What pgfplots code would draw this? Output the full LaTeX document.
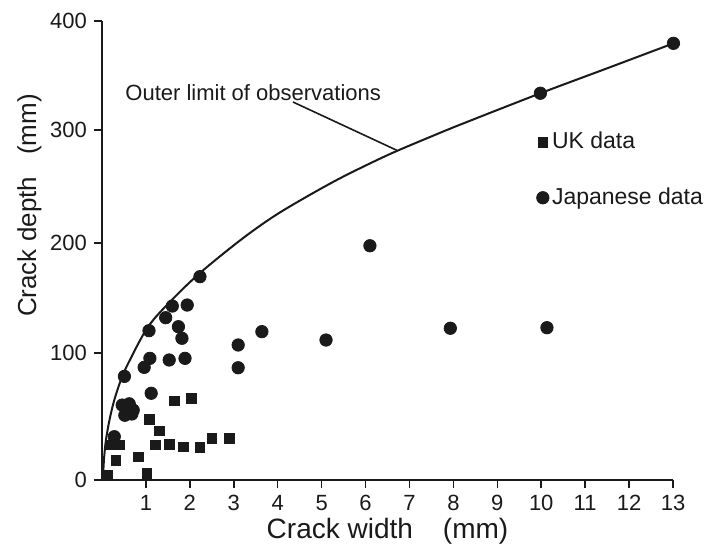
\documentclass[border=0pt]{standalone}
\usepackage{pgfplots}
\pgfplotsset{compat=1.18}
\usepackage{pgfplotstable}
\usepackage{fontspec}
\setmainfont{Liberation Sans}
\definecolor{ink}{HTML}{1A1A1A}

\pgfplotstableread{
x y
0.01 0
0.03 7.9
0.05 18.3
0.09 31.5
0.17 47.2
0.28 63
0.43 78.7
0.60 92.1
1.05 123.9
1.59 148.2
2.23 172.7
3.14 202.2
3.90 223.3
4.66 241
5.42 257.3
6.18 271.9
6.71 281.4
7.40 292.7
8.16 305
9.98 333.7
11.50 356.6
13.01 379.5
}\curvedata

% UK data
\pgfplotstableread{
x y
0.13 4
1.02 5
0.32 15.5
0.83 18.3
0.22 27.6
0.41 27.6
1.22 27.6
1.53 28.1
1.85 26.2
2.23 25.7
2.50 32.8
2.90 32.8
1.08 47.5
1.31 38.8
1.65 62.4
2.04 64.3
}\ukdata

% Japanese data
\pgfplotstableread{
x y
2.23 169.4
1.60 142.7
1.94 143.6
1.45 132.1
1.74 123.9
1.82 113.4
1.07 120.3
1.09 95.8
1.53 94.5
1.89 95.8
0.96 88.7
0.51 81.6
1.12 68.3
0.46 59
0.62 60
0.71 55
0.52 51
0.68 52
0.28 34.1
3.10 107.3
3.10 88.4
3.64 119.4
5.10 111.8
6.10 197.5
7.93 122.5
10.13 123
9.98 333.7
13.01 379.5
}\jpdata

\begin{document}
\begin{tikzpicture}
\path[use as bounding box] (-51pt,-36.5pt) rectangle (301.5pt,240pt);
\begin{axis}[
  scale only axis, width=285.5pt, height=229.5pt,
  xmin=0, xmax=13, ymin=0, ymax=400,
  y coord trafo/.code={\pgfmathparse{(#1)<=100 ? 1.27*(#1) : ((#1)<=200 ? 127+1.10*((#1)-100) : ((#1)<=300 ? 237+1.13*((#1)-200) : 350+1.09*((#1)-300)))}},
  y coord inv trafo/.code={\pgfmathparse{(#1)<=127 ? (#1)/1.27 : ((#1)<=237 ? 100+((#1)-127)/1.10 : ((#1)<=350 ? 200+((#1)-237)/1.13 : 300+((#1)-350)/1.09))}},
  axis x line*=bottom, axis y line*=left,
  axis line style={-, line width=0.9pt, draw=ink},
  xtick={1,2,...,13},
  ytick={0,100,200,300,400}, yticklabels={0,100,200,300,400},
  tick align=outside, major tick length=4pt,
  tick style={line width=0.8pt, draw=ink},
  ticklabel style={font=\fontsize{11}{13}\selectfont, text=ink},
  /pgf/number format/assume math mode=true,
  xlabel={Crack width\hspace{15pt}(mm)},
  ylabel={Crack depth\hspace{11pt}(mm)},
  every axis x label/.style={at={(axis description cs:0.500,-0.111)}, anchor=center, font=\fontsize{14}{16}\selectfont, text=ink},
  every axis y label/.style={at={(axis description cs:-0.127,0.598)}, rotate=90, anchor=center, font=\fontsize{13}{15}\selectfont, text=ink},
  clip=false,
  legend cell align=left,
  legend style={draw=none, fill=none, at={(0.7605,0.765)}, anchor=north west,
    font=\fontsize{11.5}{13.5}\selectfont, row sep=15pt, inner sep=0pt,
    nodes={inner sep=1.5pt, text=ink}},
  legend image code/.code={\draw[mark repeat=2,mark phase=2,#1] plot coordinates {(0pt,0pt)(3pt,0pt)(6pt,0pt)};},
]
\addplot[ink, line width=1pt, smooth, tension=0.55, forget plot] table {\curvedata};
\addplot[only marks, mark=square*, mark size=2.4pt, ink, mark options={fill=ink, draw=ink}] table {\ukdata};
\addplot[only marks, mark=*, mark size=3.1pt, ink, mark options={fill=ink, draw=ink}] table {\jpdata};
\legend{UK data, Japanese data}
\node[anchor=west, inner sep=0pt, font=\fontsize{11}{13}\selectfont, text=ink] at (axis description cs:0.0403,0.845) {Outer limit of observations};
\draw[ink, line width=0.8pt] (axis description cs:0.3345,0.8235) -- (axis description cs:0.516,0.7185);
\end{axis}
\end{tikzpicture}
\end{document}
